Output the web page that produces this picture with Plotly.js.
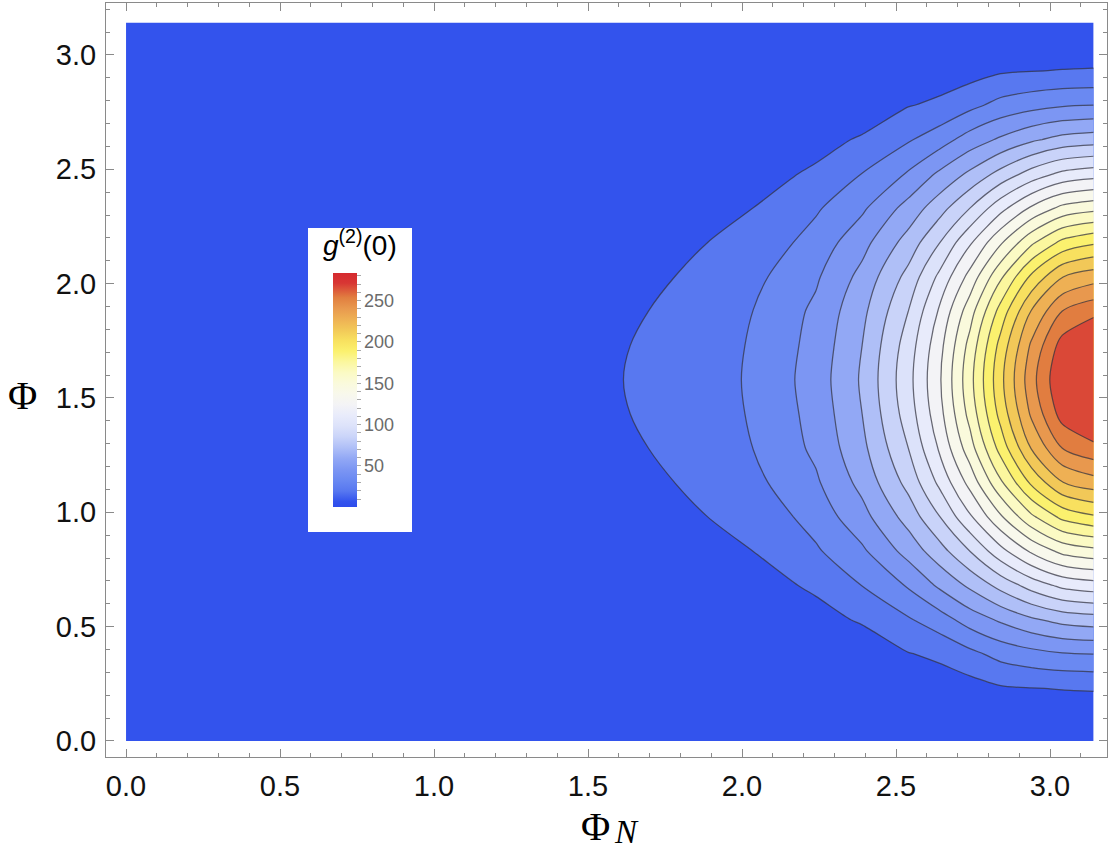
<!DOCTYPE html>
<html><head><meta charset="utf-8">
<script src="https://cdn.plot.ly/plotly-3.0.1.min.js"></script>
<style>html,body{margin:0;padding:0;background:#fff}</style>
</head><body><div id="chart" style="width:1111px;height:851px"></div>
<script>
// ---- data ----
var phiN = [0, 0.44, 0.84, 1.24, 1.54, 1.79, 2.04, 2.24, 2.39, 2.54, 2.64, 2.74, 2.84, 2.94, 3.04, 3.1416];
var phi  = [0, 0.23, 0.38, 0.53, 0.68, 0.83, 0.98, 1.13, 1.28, 1.43, 1.58, 1.73, 1.88, 2.03, 2.18, 2.33, 2.48, 2.63, 2.78, 2.93, 3.1416];
var g2 = [
 [1.0, 1.0, 1.0, 1.0, 1.0, 1.0, 1.0, 1.0, 1.0, 1.0, 1.0, 1.0, 1.0, 1.0, 1.0, 1.0],
 [1.1, 1.4, 1.7, 2.0, 2.3, 2.3, 3.0, 3.6, 4.9, 6.6, 7.6, 8.6, 12.5, 13.7, 14.4, 14.8],
 [1.3, 1.7, 2.3, 3.0, 3.3, 3.6, 4.9, 6.9, 8.8, 13.4, 16.3, 23.5, 31.2, 35.6, 38.8, 40.0],
 [1.3, 2.0, 3.0, 3.9, 4.6, 4.9, 7.5, 11.2, 14.9, 25.6, 33.9, 45.7, 55.0, 63.8, 70.2, 72.8],
 [1.4, 2.3, 3.6, 4.9, 5.9, 6.9, 10.8, 15.3, 27.2, 41.3, 55.1, 68.5, 83.3, 97.3, 108.1, 112.2],
 [1.4, 2.6, 4.3, 5.9, 7.2, 8.8, 14.1, 25.3, 37.8, 57.8, 73.5, 92.0, 113.7, 133.1, 147.6, 153.0],
 [1.5, 3.0, 4.9, 7.0, 8.5, 11.4, 18.0, 32.2, 48.5, 71.2, 91.4, 116.1, 142.3, 167.5, 186.5, 194.1],
 [1.5, 3.2, 5.6, 8.2, 9.4, 14.2, 23.8, 38.2, 56.9, 83.2, 107.6, 135.4, 167.9, 198.7, 221.6, 229.3],
 [1.7, 3.5, 6.2, 9.1, 10.0, 16.4, 27.3, 42.6, 62.6, 92.0, 119.4, 151.3, 188.1, 222.8, 248.0, 257.2],
 [1.7, 3.6, 6.7, 9.8, 11.2, 18.4, 28.2, 44.5, 66.0, 98.2, 126.2, 161.4, 200.7, 237.3, 266.5, 277.6],
 [1.7, 3.6, 6.9, 10.1, 11.6, 19.6, 28.5, 46.0, 67.7, 100.7, 128.9, 165.6, 205.5, 243.3, 273.2, 284.4],
 [1.7, 3.6, 6.7, 9.8, 11.2, 18.4, 28.2, 44.5, 66.0, 98.2, 126.2, 161.4, 200.7, 237.3, 266.5, 277.6],
 [1.7, 3.5, 6.2, 9.1, 10.0, 16.4, 27.3, 42.6, 62.6, 92.0, 119.4, 151.3, 188.1, 222.8, 248.0, 257.2],
 [1.5, 3.2, 5.6, 8.2, 9.4, 14.2, 23.8, 38.2, 56.9, 83.2, 107.6, 135.4, 167.9, 198.7, 221.6, 229.3],
 [1.5, 3.0, 4.9, 7.0, 8.5, 11.4, 18.0, 32.2, 48.5, 71.2, 91.4, 116.1, 142.3, 167.5, 186.5, 194.1],
 [1.4, 2.6, 4.3, 5.9, 7.2, 8.8, 14.1, 25.3, 37.8, 57.8, 73.5, 92.0, 113.7, 133.1, 147.6, 153.0],
 [1.4, 2.3, 3.6, 4.9, 5.9, 6.9, 10.8, 15.3, 27.2, 41.3, 55.1, 68.5, 83.3, 97.3, 108.1, 112.2],
 [1.3, 2.0, 3.0, 3.9, 4.6, 4.9, 7.5, 11.2, 14.9, 25.6, 33.9, 45.7, 55.0, 63.8, 70.2, 72.8],
 [1.3, 1.7, 2.3, 3.0, 3.3, 3.6, 4.9, 6.9, 8.8, 13.4, 16.3, 23.5, 31.2, 35.6, 38.8, 40.0],
 [1.1, 1.4, 1.7, 2.0, 2.3, 2.3, 3.0, 3.6, 4.9, 6.6, 7.6, 8.6, 12.5, 13.7, 14.4, 14.8],
 [1.0, 1.0, 1.0, 1.0, 1.0, 1.0, 1.0, 1.0, 1.0, 1.0, 1.0, 1.0, 1.0, 1.0, 1.0, 1.0]
];
var levelStart = 14, levelEnd = 261, levelSize = 13;
var cbMin = 1, cbMax = 284;
var xTicks = [0, 0.5, 1.0, 1.5, 2.0, 2.5, 3.0];
var yTicks = [0, 0.5, 1.0, 1.5, 2.0, 2.5, 3.0];

// ---- style ----
var tempMap = [
 [0.000, [46, 76, 236]],
 [0.023, [51, 83, 237]],
 [0.069, [88, 120, 240]],
 [0.115, [106, 137, 242]],
 [0.160, [124, 150, 243]],
 [0.207, [146, 168, 245]],
 [0.253, [175, 191, 247]],
 [0.300, [202, 212, 249]],
 [0.345, [220, 226, 250]],
 [0.390, [232, 235, 251]],
 [0.436, [243, 243, 246]],
 [0.482, [248, 248, 236]],
 [0.528, [250, 250, 220]],
 [0.574, [251, 250, 196]],
 [0.620, [251, 247, 158]],
 [0.666, [251, 241, 110]],
 [0.712, [248, 224, 95]],
 [0.758, [242, 200, 88]],
 [0.804, [238, 176, 84]],
 [0.850, [232, 152, 78]],
 [0.895, [225, 126, 64]],
 [0.957, [216, 54, 52]],
 [1.000, [213, 42, 47]]
];
function rgb(c){return 'rgb('+Math.round(c[0])+','+Math.round(c[1])+','+Math.round(c[2])+')';}
function sample(t){
  t=Math.max(0,Math.min(1,t));
  for(var i=1;i<tempMap.length;i++){
    if(t<=tempMap[i][0]){
      var a=tempMap[i-1],b=tempMap[i],f=(t-a[0])/(b[0]-a[0]);
      return rgb([a[1][0]+(b[1][0]-a[1][0])*f,a[1][1]+(b[1][1]-a[1][1])*f,a[1][2]+(b[1][2]-a[1][2])*f]);
    }
  }
  return rgb(tempMap[tempMap.length-1][1]);
}
var cbScale = tempMap.map(function(s){return [s[0], rgb(s[1])];});
var nLev = Math.round((levelEnd-levelStart)/levelSize)+1;
var fillScale = [];
for(var i=0;i<=nLev;i++){
  var v = levelStart + (i-0.5)*levelSize;
  fillScale.push([i/nLev, sample((v-cbMin)/(cbMax-cbMin))]);
}

var W=1111,H=851,ML=106,MR=4,MT=3,MB=94;
var PW=W-ML-MR, PH=H-MT-MB;
function px(x){return (x-ML)/PW;}
function py(y){return (H-MB-y)/PH;}

var sans="'Liberation Sans', Arial, Helvetica, sans-serif";
var serif="'Liberation Serif', 'Times New Roman', 'DejaVu Serif', serif";

var contour = {
  type:'contour', x:phiN, y:phi, z:g2,
  autocontour:false,
  contours:{start:levelStart, end:levelEnd, size:levelSize, coloring:'fill', showlines:true},
  colorscale: fillScale,
  line:{color:'rgba(50,50,62,0.72)', width:1.25, smoothing:0.85},
  showscale:false, hoverinfo:'skip'
};
function cbar(major){
  var cb = {
    x:px(333), xanchor:'left', y:py(389.5), yanchor:'middle',
    len:234, lenmode:'pixels', thickness:24, thicknessmode:'pixels',
    xpad:0, ypad:0, outlinewidth:0, borderwidth:0, bgcolor:'rgba(0,0,0,0)',
    tickmode:'linear', tick0:0, dtick: major ? 50 : 10,
    ticks:'outside', ticklen:4, tickwidth:1, tickcolor:'#aaa',
    showticklabels: major,
    tickfont:{family:sans, size:18, color:'#6b6b6b'}
  };
  return {
    type:'heatmap', x:[10,11], y:[10,11], z:[[cbMin,cbMax],[cbMin,cbMax]],
    zmin:cbMin, zmax:cbMax, colorscale:cbScale, hoverinfo:'skip', colorbar:cb
  };
}

function axis(range, ticks){
  return {
    range:range, tickmode:'array', tickvals:ticks,
    ticktext:ticks.map(function(v){return v.toFixed(1);}),
    ticks:'inside', ticklen:8, tickwidth:1, tickcolor:'#8a8a8a',
    showline:true, linecolor:'#8a8a8a', linewidth:1, mirror:'allticks',
    showgrid:false, zeroline:false,
    minor:{tickmode:'linear', tick0:0, dtick:0.1, ticks:'inside', ticklen:4, tickwidth:1, tickcolor:'#8a8a8a', showgrid:false},
    tickfont:{family:sans, size:29, color:'#111'}
  };
}
var xa = axis([-0.065, 3.185], xTicks); xa.ticklabelstandoff = 3;
var ya = axis([-0.07, 3.227], yTicks); ya.ticklabelstandoff = 3;

var layout = {
  width:W, height:H, margin:{l:ML, r:MR, t:MT, b:MB},
  paper_bgcolor:'#fff', plot_bgcolor:'#fff', showlegend:false,
  xaxis:xa, yaxis:ya,
  shapes:[{type:'rect', xref:'paper', yref:'paper', x0:px(308), x1:px(412), y0:py(532), y1:py(228),
           fillcolor:'#fff', line:{width:0}, layer:'above'}],
  annotations:[
    {xref:'paper', yref:'paper', x:px(360), y:py(243), xanchor:'center', yanchor:'middle', showarrow:false,
     text:'<i>g</i><sup>(2)</sup>(0)', font:{family:sans, size:28, color:'#000'}},
    {xref:'paper', yref:'paper', x:px(22), y:py(396), xanchor:'center', yanchor:'middle', showarrow:false,
     text:'Φ', font:{family:serif, size:40, color:'#000'}},
    {xref:'paper', yref:'paper', x:px(595), y:py(826), xanchor:'center', yanchor:'middle', showarrow:false,
     text:'Φ', font:{family:serif, size:40, color:'#000'}},
    {xref:'paper', yref:'paper', x:px(626), y:py(832), xanchor:'center', yanchor:'middle', showarrow:false,
     text:'<i>N</i>', font:{family:serif, size:33, color:'#000'}}
  ]
};
Plotly.newPlot('chart', [contour, cbar(false), cbar(true)], layout, {displayModeBar:false, staticPlot:true});
</script></body></html>
